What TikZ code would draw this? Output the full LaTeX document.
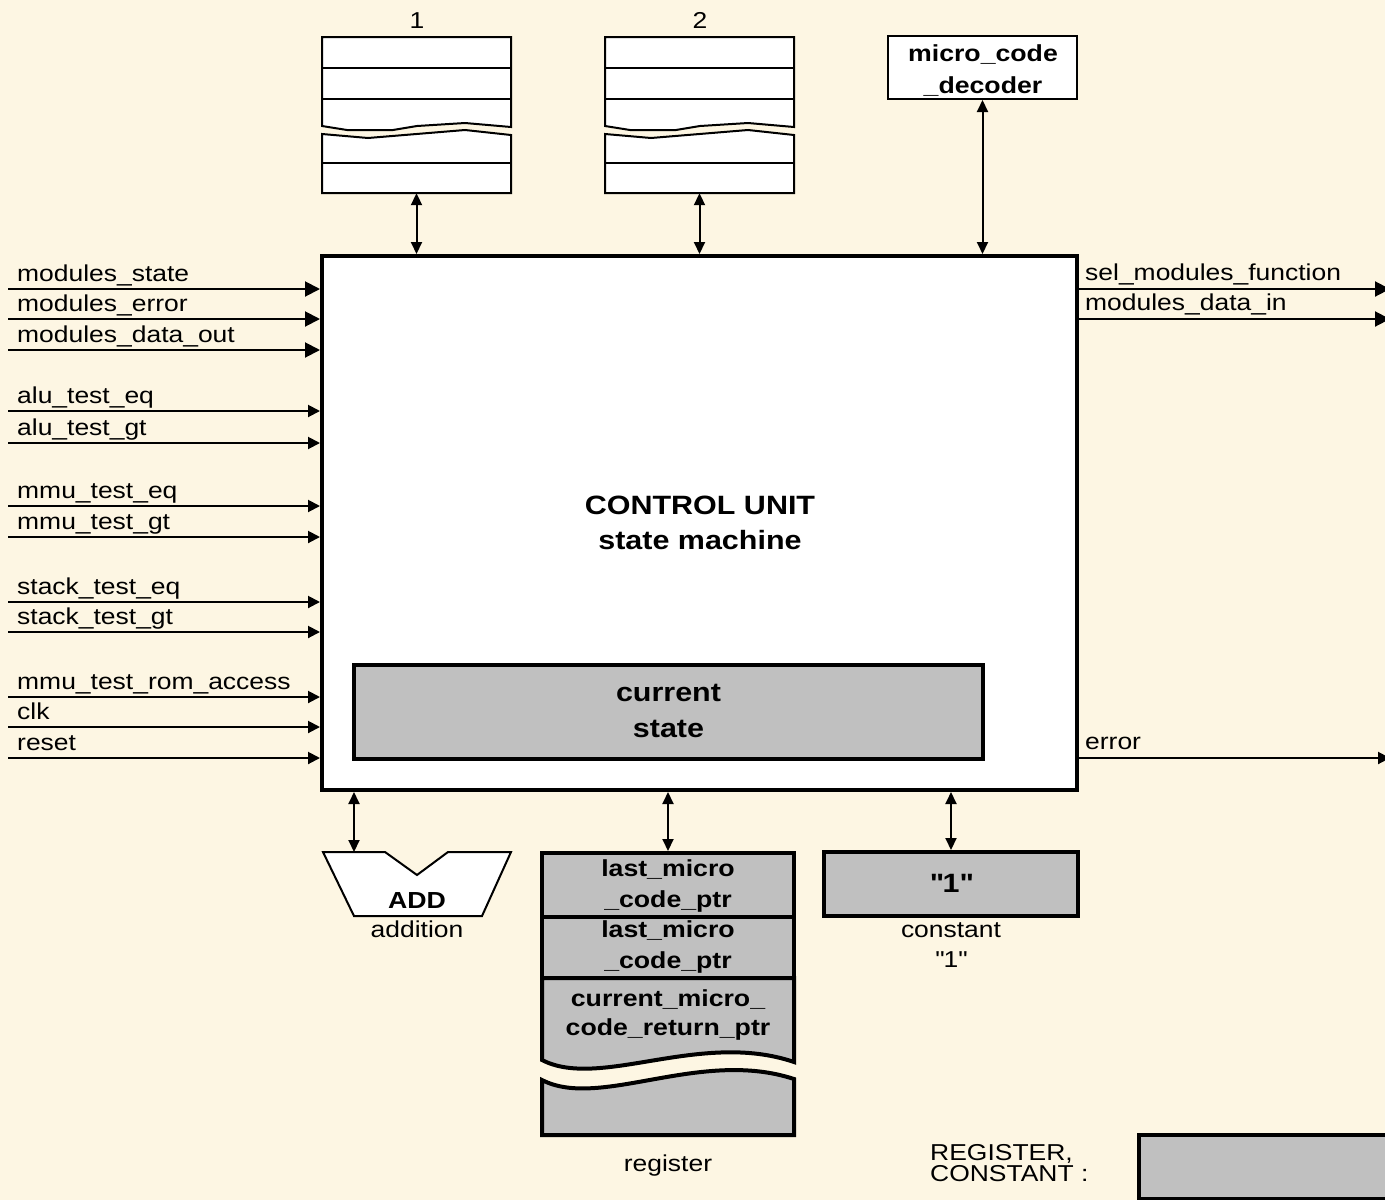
\documentclass[tikz,border=0pt]{standalone}
\usepackage{fontspec}
\setmainfont[FakeStretch=1.15]{Liberation Sans}
\usetikzlibrary{arrows.meta}
\definecolor{bgc}{HTML}{FDF6E3}
\definecolor{regc}{HTML}{C0C0C0}
\begin{document}
\begin{tikzpicture}[x=1pt,y=-1pt,
  lbl/.style={font=\fontsize{23}{30}\selectfont, inner sep=0pt, anchor=base},
  llbl/.style={lbl, anchor=base west},
  blbl/.style={font=\fontsize{23.2}{31}\selectfont\bfseries, inner sep=0pt, align=center, anchor=base},
  bigl/.style={font=\fontsize{26.5}{35}\selectfont\bfseries, inner sep=0pt, align=center},
  wire/.style={line width=2pt},
  insmall/.style={wire, -{Triangle[length=12pt,width=12pt]}},
  inlarge/.style={wire, -{Triangle[length=15pt,width=15pt]}},
  bidir/.style={wire, {Triangle[length=12pt,width=11pt]}-{Triangle[length=12pt,width=11pt]}},
  whitebox/.style={draw, line width=2pt, fill=white, inner sep=0pt},
  greybox/.style={draw, line width=4pt, fill=regc, inner sep=0pt},
  memline/.style={line width=2pt},
]
\fill[bgc] (0,0) rectangle (1385,1200);
\useasboundingbox (0,0) rectangle (1385,1200);

% ---- main control unit
\node[draw, line width=4pt, fill=white, inner sep=0pt, minimum width=755pt, minimum height=534pt] (cu) at (699.5,523) {};
\node[bigl] (cutitle) at (700,523) {CONTROL UNIT\\state machine};
\node[greybox, line width=3.5pt, minimum width=629pt, minimum height=94pt] (cs) at (668.5,712) {};
\node[bigl, font=\fontsize{26.5}{36}\selectfont\bfseries] (cstxt) at (668.5,711) {current\\state};

% ---- memories
\foreach \nm/\dx/\lab in {mem1/0/1, mem2/283/2}{
  \begin{scope}[shift={(\dx,0)}]
    \draw[memline, fill=white] (322,37) -- (511,37) -- (511,127) -- (465,123) -- (417,126) -- (393,130) -- (347,130) -- (322,126) -- cycle;
    \draw[memline] (322,68) -- (511,68) (322,99) -- (511,99);
    \draw[memline, fill=white] (322,134) -- (368,138) -- (465,130) -- (511,135) -- (511,193) -- (322,193) -- cycle;
    \draw[memline] (322,163) -- (511,163);
    \node[inner sep=0pt, minimum width=189pt, minimum height=156pt] (\nm) at (416.5,115) {};
    \node[lbl] (\nm lbl) at (417,28) {\lab};
  \end{scope}
}
\draw[bidir] (mem1.south) -- (mem1.south |- cu.north);
\draw[bidir] (mem2.south) -- (mem2.south |- cu.north);

% ---- decoder
\node[whitebox, minimum width=189pt, minimum height=63pt] (dec) at (982.5,67.5) {};
\node[blbl, font=\fontsize{23.2}{32}\selectfont\bfseries] (dectxt) at (983,93) {micro\_code\\\_decoder};
\draw[bidir] (dec.south) -- (dec.south |- cu.north);

% ---- inputs
\foreach \nm/\y/\txt/\sty in {
  i1/289/modules\_state/inlarge,
  i2/319/modules\_error/inlarge,
  i3/350/modules\_data\_out/inlarge,
  i4/411/alu\_test\_eq/insmall,
  i5/443/alu\_test\_gt/insmall,
  i6/506/mmu\_test\_eq/insmall,
  i7/537/mmu\_test\_gt/insmall,
  i8/602/stack\_test\_eq/insmall,
  i9/632/stack\_test\_gt/insmall,
  i10/697/mmu\_test\_rom\_access/insmall,
  i11/727/clk/insmall,
  i12/758/reset/insmall}{
  \coordinate (\nm) at (8,\y);
  \node[llbl] (\nm lbl) at (17,\y-8) {\txt};
  \draw[\sty] (\nm) -- (\nm -| cu.west);
}

% ---- outputs
\foreach \nm/\y/\txt/\sty in {
  o1/289/sel\_modules\_function/inlarge,
  o2/319/modules\_data\_in/inlarge,
  o3/758/error/insmall}{
  \coordinate (\nm) at (1390,\y);
  \node[llbl] (\nm lbl) at (1085,\y-8.5) {\txt};
  \draw[\sty] (\nm -| cu.east) -- (\nm);
}

% ---- adder
\draw[line width=2pt, fill=white] (323,852) -- (385,852) -- (417,875) -- (448,852) -- (511,852) -- (482,916) -- (354,916) -- cycle;
\coordinate (addin) at (354,852);
\node[blbl] (addtxt) at (417,908) {ADD};
\node[lbl] (addlbl) at (417,937) {addition};
\draw[bidir] (cu.south -| addin) -- (addin);

% ---- register stack
\node[greybox, minimum width=252pt, minimum height=64pt] (reg1) at (668,885) {};
\node[greybox, minimum width=252pt, minimum height=61pt] (reg2) at (668,947.5) {};
\draw[line width=4pt, fill=regc] (542,978) -- (794,978) -- (794,1062) .. controls (700,1030) and (600,1090) .. (542,1060) -- cycle;
\draw[line width=4pt, fill=regc] (542,1080) .. controls (600,1110) and (700,1048) .. (794,1079) -- (794,1135) -- (542,1135) -- cycle;
\node[blbl] (reg1txt) at (668,907) {last\_micro\\\_code\_ptr};
\node[blbl] (reg2txt) at (668,968) {last\_micro\\\_code\_ptr};
\node[blbl, font=\fontsize{23.2}{29}\selectfont\bfseries] (reg3txt) at (668,1035) {current\_micro\_\\code\_return\_ptr};
\node[lbl] (reglbl) at (668,1171) {register};
\draw[bidir] (cu.south -| reg1.north) -- (reg1.north);

% ---- constant
\node[greybox, minimum width=254pt, minimum height=64pt] (const) at (951,884) {};
\node[bigl, anchor=base] (consttxt) at (951,892) {\textquotedbl 1\textquotedbl};
\node[lbl, align=center] (constlbl) at (951,967) {constant\\\textquotedbl 1\textquotedbl};
\draw[bidir] (cu.south -| const.north) -- (const.north);

% ---- legend
\node[lbl, anchor=base west, align=left, font=\fontsize{23}{21}\selectfont] (legtxt) at (930,1181) {REGISTER,\\CONSTANT :};
\node[greybox, minimum width=270pt, minimum height=64pt, anchor=north west] (legbox) at (1137,1133) {};
\end{tikzpicture}
\end{document}
